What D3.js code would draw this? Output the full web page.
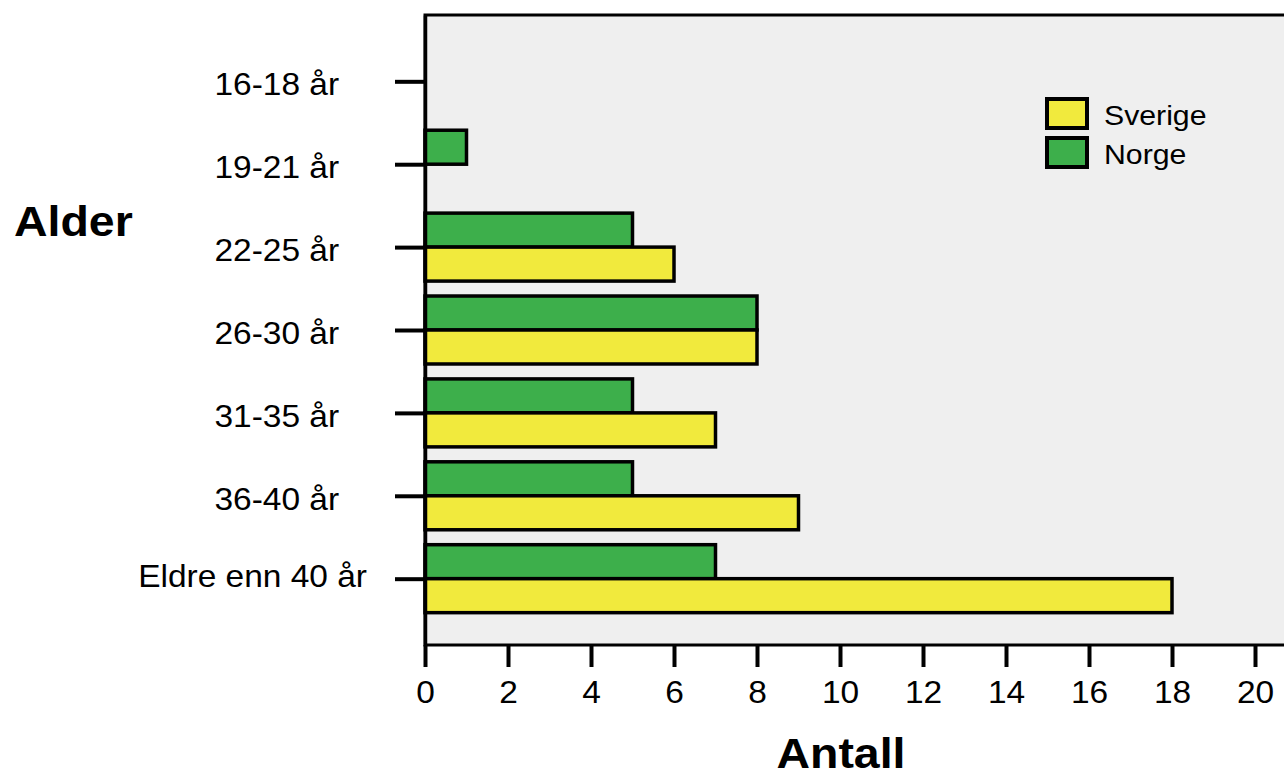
<!DOCTYPE html>
<html>
<head>
<meta charset="utf-8">
<script src="https://cdn.jsdelivr.net/npm/d3@7"></script>
<style>
  html, body { margin: 0; padding: 0; background: #fff; }
  svg { display: block; font-family: "Liberation Sans", Arial, Helvetica, sans-serif; }
</style>
</head>
<body>
<svg id="chart" width="1284" height="772"></svg>
<script>
const categories = ['16-18 år', '19-21 år', '22-25 år', '26-30 år', '31-35 år', '36-40 år', 'Eldre enn 40 år'];
const norge   = [0, 1, 5, 8, 5, 5, 7];
const sverige = [0, 0, 6, 8, 7, 9, 18];
const xTicks  = [0, 2, 4, 6, 8, 10, 12, 14, 16, 18, 20];
const seriesNames  = ['Sverige', 'Norge'];
const seriesColors = { Sverige: '#f1ea3d', Norge: '#3daf4b' };

const svg = d3.select('#chart');
const plot = { left: 425, top: 15, right: 1300, bottom: 645 };
const stretch = 1.08; // source font is a bit wider than Liberation Sans

const x = d3.scaleLinear().domain([0, 20]).range([425, 1255]);
const y = d3.scalePoint()
    .domain(categories)
    .range([plot.top, plot.bottom])
    .padding(0.8);
const barH = y.step() * 0.41;

// frame / background
svg.append('rect')
    .attr('x', plot.left).attr('y', plot.top)
    .attr('width', plot.right - plot.left)
    .attr('height', plot.bottom - plot.top)
    .attr('fill', '#efefef')
    .attr('stroke', '#000')
    .attr('stroke-width', 3);

const rows = categories.map((c, i) => ({ cat: c, Norge: norge[i], Sverige: sverige[i] }));

// Norge above tick, Sverige below
svg.append('g').selectAll('rect')
    .data(rows)
    .enter().append('rect')
    .attr('x', x(0))
    .attr('y', d => y(d.cat) - barH)
    .attr('width', d => x(d.Norge) - x(0))
    .attr('height', barH)
    .attr('fill', seriesColors.Norge)
    .attr('stroke', '#000')
    .attr('stroke-width', 3.5)
    .style('display', d => d.Norge > 0 ? null : 'none');

svg.append('g').selectAll('rect')
    .data(rows)
    .enter().append('rect')
    .attr('x', x(0))
    .attr('y', d => y(d.cat))
    .attr('width', d => x(d.Sverige) - x(0))
    .attr('height', barH)
    .attr('fill', seriesColors.Sverige)
    .attr('stroke', '#000')
    .attr('stroke-width', 3.5)
    .style('display', d => d.Sverige > 0 ? null : 'none');

// y axis
const yAxis = svg.append('g')
    .attr('transform', `translate(${plot.left},0)`)
    .call(d3.axisLeft(y).tickSize(30).tickPadding(0).tickSizeOuter(0));
yAxis.select('.domain').attr('stroke', '#000').attr('stroke-width', 3.5);
yAxis.selectAll('.tick line').attr('stroke', '#000').attr('stroke-width', 4);
yAxis.selectAll('.tick text').remove();

svg.append('g').selectAll('text')
    .data(categories)
    .enter().append('text')
    .attr('transform', d => `translate(367,${y(d) + (d.startsWith('Eldre') ? 8 : 14)}) scale(${stretch},1)`)
    .attr('text-anchor', 'end')
    .style('white-space', 'pre')
    .attr('font-size', 31)
    .attr('fill', '#000')
    .text(d => d.startsWith('Eldre') ? d : d + '   ');

// x axis
const xAxis = svg.append('g')
    .attr('transform', `translate(0,${plot.bottom})`)
    .call(d3.axisBottom(x).tickValues(xTicks).tickSize(22).tickPadding(14).tickSizeOuter(0));
xAxis.select('.domain').remove();
xAxis.selectAll('.tick line').attr('stroke', '#000').attr('stroke-width', 4);
xAxis.selectAll('.tick text')
    .attr('font-size', 31)
    .attr('fill', '#000')
    .attr('transform', `scale(${stretch},1)`)
    .attr('x', 0)
    .attr('font-family', '"Liberation Sans", Arial, sans-serif');

// axis titles
svg.append('text')
    .attr('transform', `translate(14,236) scale(${stretch},1)`)
    .attr('font-size', 43)
    .attr('font-weight', 'bold')
    .attr('fill', '#000')
    .text('Alder');

svg.append('text')
    .attr('transform', `translate(841,768) scale(${stretch},1)`)
    .attr('text-anchor', 'middle')
    .attr('font-size', 43)
    .attr('font-weight', 'bold')
    .attr('fill', '#000')
    .text('Antall');

// legend
const legend = svg.append('g').attr('transform', 'translate(1047,99)');
const li = legend.selectAll('g')
    .data(seriesNames)
    .enter().append('g')
    .attr('transform', (d, i) => `translate(0,${i * 39})`);
li.append('rect')
    .attr('width', 40).attr('height', 29)
    .attr('fill', d => seriesColors[d])
    .attr('stroke', '#000')
    .attr('stroke-width', 4);
li.append('text')
    .attr('transform', `translate(57,26) scale(${stretch},1)`)
    .attr('font-size', 28)
    .attr('fill', '#000')
    .text(d => d);
</script>
</body>
</html>
